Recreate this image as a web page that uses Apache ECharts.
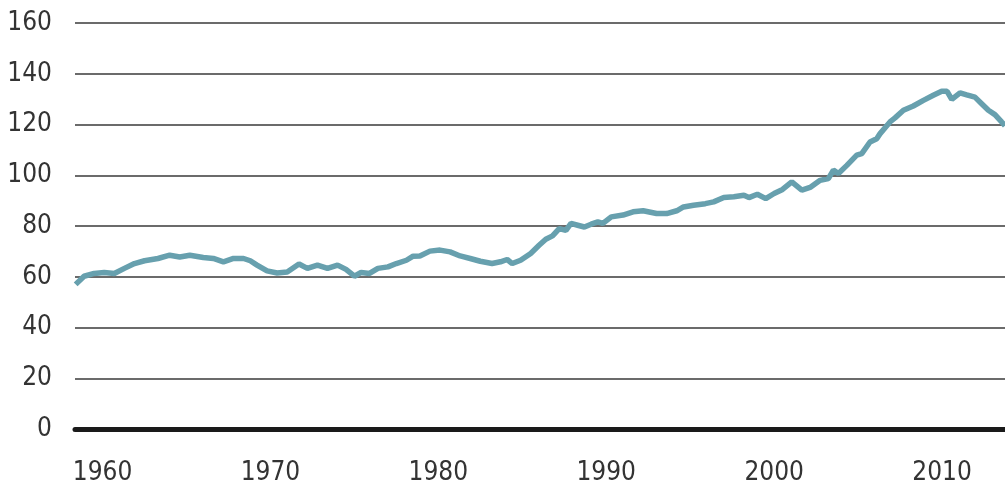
<!DOCTYPE html>
<html>
<head>
<meta charset="utf-8">
<script src="https://cdn.jsdelivr.net/npm/echarts@6/dist/echarts.min.js"></script>
<style>
  html, body { margin: 0; padding: 0; background: #fff; }
  #chart { width: 1005px; height: 488px; }
</style>
</head>
<body>
<div id="chart"></div>
<script>
// values
const years = [
  1958.4, 1958.9, 1959.5, 1960.1, 1960.7, 1961.3, 1961.9, 1962.5, 1963.3, 1964.0,
  1964.6, 1965.2, 1966.0, 1966.6, 1967.2, 1967.8, 1968.4, 1968.8, 1969.2, 1969.8,
  1970.4, 1971.0, 1971.7, 1972.2, 1972.8, 1973.4, 1974.0, 1974.5, 1975.0, 1975.4,
  1975.9, 1976.4, 1977.0, 1977.5, 1978.1, 1978.5, 1978.9, 1979.5, 1980.1, 1980.7,
  1981.3, 1981.9, 1982.5, 1983.2, 1983.7, 1984.1, 1984.4, 1984.9, 1985.5, 1986.0,
  1986.4, 1986.8, 1987.2, 1987.6, 1987.9, 1988.3, 1988.7, 1989.1, 1989.5, 1989.8,
  1990.3, 1991.0, 1991.6, 1992.2, 1993.0, 1993.6, 1994.2, 1994.6, 1995.2, 1995.9,
  1996.4, 1997.0, 1997.6, 1998.2, 1998.5, 1999.0, 1999.5, 2000.0, 2000.5, 2001.05,
  2001.65, 2002.14, 2002.74, 2003.23, 2003.53, 2003.83, 2004.33, 2004.92, 2005.22, 2005.71,
  2006.11, 2006.31, 2006.9, 2007.2, 2007.7, 2008.29, 2008.89, 2009.48, 2009.98, 2010.3,
  2010.58, 2011.07, 2011.47, 2011.96, 2012.36, 2012.76, 2013.15, 2013.55, 2013.75
];
const values = [
  57.0, 60.2, 61.3, 61.7, 61.3, 63.3, 65.2, 66.3, 67.2, 68.5,
  67.8, 68.5, 67.6, 67.2, 65.9, 67.2, 67.2, 66.3, 64.6, 62.3,
  61.5, 61.9, 65.0, 63.3, 64.6, 63.3, 64.6, 62.9, 60.2, 61.7,
  61.3, 63.3, 63.9, 65.2, 66.5, 68.1, 68.2, 70.1, 70.5, 69.8,
  68.2, 67.2, 66.1, 65.2, 65.9, 66.8, 65.2, 66.5, 69.2, 72.4,
  74.8, 76.1, 79.0, 78.3, 81.0, 80.3, 79.6, 80.7, 81.6, 81.0,
  83.6, 84.3, 85.6, 86.0, 84.9, 84.9, 86.0, 87.5, 88.2, 88.8,
  89.5, 91.2, 91.5, 92.1, 91.2, 92.5, 90.8, 92.8, 94.4, 97.4,
  94.1, 95.2, 98.0, 98.7, 102.0, 100.7, 103.9, 107.9, 108.5, 113.1,
  114.4, 116.4, 121.0, 122.6, 125.6, 127.3, 129.5, 131.5, 133.1, 133.1,
  129.9, 132.5, 131.7, 130.8, 128.2, 125.6, 123.9, 121.0, 119.5
];
const xTickLabels = [1960, 1970, 1980, 1990, 2000, 2010];

const labelFont = '"Liberation Sans Narrow", "DejaVu Sans Condensed", sans-serif';

let chart = echarts.init(document.getElementById('chart'), null, { renderer: 'canvas' });

let option = {
  animation: false,
  backgroundColor: '#fff',
  grid: { left: 75, right: 0, top: 23, bottom: 59, containLabel: false },
  xAxis: {
    type: 'value',
    min: 1958.36,
    max: 2013.75,
    axisLine: { show: true, onZero: true, lineStyle: { color: '#1a1a1a', width: 5 } },
    axisTick: { show: false },
    splitLine: { show: false },
    axisLabel: {
      customValues: xTickLabels,
      formatter: v => String(v),
      color: '#333',
      fontSize: 26,
      fontFamily: labelFont,
      margin: 31
    }
  },
  yAxis: {
    type: 'value',
    min: 0,
    max: 160,
    interval: 20,
    axisLine: { show: false },
    axisTick: { show: false },
    splitLine: { show: true, lineStyle: { color: '#3a3a3a', width: 1.5 } },
    axisLabel: {
      color: '#333',
      fontSize: 26,
      fontFamily: labelFont,
      margin: 23
    }
  },
  series: [{
    type: 'line',
    data: years.map((y, i) => [y, values[i]]),
    showSymbol: false,
    smooth: false,
    clip: true,
    lineStyle: { color: '#67a0ae', width: 5.5 },
    z: 3
  }]
};

chart.setOption(option);
</script>
</body>
</html>
